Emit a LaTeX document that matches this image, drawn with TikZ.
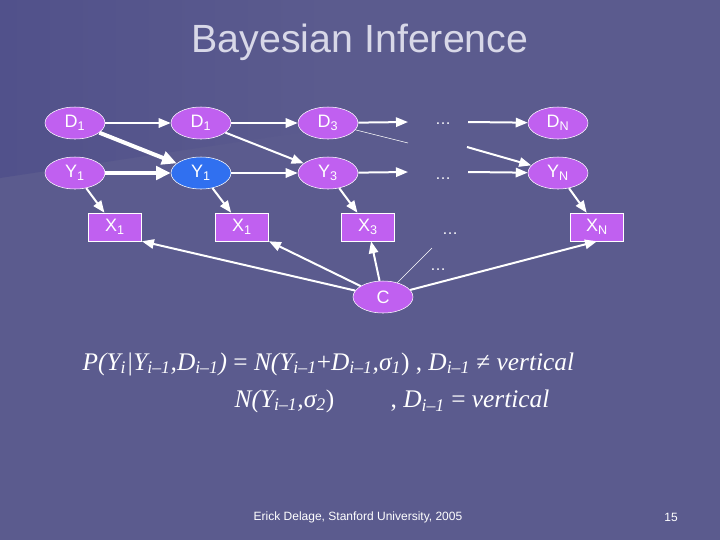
\documentclass[tikz,border=0pt]{standalone}
\usepackage{fontspec}
\setmainfont{Liberation Sans}
\newfontfamily\serifit{Liberation Serif}
\usetikzlibrary{arrows.meta,shapes.geometric}
\definecolor{bg}{HTML}{5B5B8E}
\definecolor{bgl}{HTML}{6E6E9E}
\definecolor{nodef}{HTML}{C060F0}
\definecolor{blu}{HTML}{3070F0}
\definecolor{ttl}{HTML}{D8D8E8}
\begin{document}
\begin{tikzpicture}[x=0.75pt,y=-0.75pt,
  ell/.style={ellipse,draw=white,fill=nodef,minimum width=45pt,minimum height=24pt,inner sep=0pt,text=white,font=\fontsize{13.5}{13.5}\selectfont},
  box/.style={rectangle,draw=white,fill=nodef,minimum width=40pt,minimum height=21pt,inner sep=0pt,text=white,font=\fontsize{13.5}{13.5}\selectfont},
  arr/.style={draw=white,line width=1.5pt,-{Triangle[length=9pt,width=7pt]}},
  tarr/.style={draw=white,line width=3pt,-{Triangle[length=11pt,width=10pt]}},
  dots/.style={text=white,font=\fontsize{12}{12}\selectfont}]
\useasboundingbox (0,0) rectangle (720,540);
\fill[bg] (0,0) rectangle (720,540);
\shade[left color=bgl!120!white,right color=bg] (0,0) -- (330,0) -- (330,128) -- (0,178) -- cycle;
\node[text=ttl,font=\fontsize{29.5}{29.5}\selectfont] (title) at (360,42) {Bayesian Inference};
\node[ell] (d1) at (75,123) {D\textsubscript{1}};
\node[ell] (d2) at (201,123) {D\textsubscript{1}};
\node[ell] (d3) at (328,123) {D\textsubscript{3}};
\node[ell] (dn) at (558,123) {D\textsubscript{N}};
\node[ell] (y1) at (75,173) {Y\textsubscript{1}};
\node[ell,fill=blu] (y2) at (201,173) {Y\textsubscript{1}};
\node[ell] (y3) at (328,173) {Y\textsubscript{3}};
\node[ell] (yn) at (558,173) {Y\textsubscript{N}};
\node[box] (x1) at (115,227) {X\textsubscript{1}};
\node[box] (x2) at (242,227) {X\textsubscript{1}};
\node[box] (x3) at (368,227) {X\textsubscript{3}};
\node[box] (xn) at (597,227) {X\textsubscript{N}};
\node[ell] (c) at (383,297) {C};
\node[dots] (dd) at (443,124) {\dots};
\node[dots] (dy) at (443,179) {\dots};
\node[dots] (dx) at (450,234) {\dots};
\node[dots] (dc) at (438,270) {\dots};
\coordinate (a1) at (408,122); \coordinate (a2) at (468,122);
\coordinate (b1) at (408,143); \coordinate (b2) at (467,147);
\coordinate (c1) at (408,172); \coordinate (c2) at (468,172);
\coordinate (e1) at (432,248);
\draw[arr] (d1) -- (d2);
\draw[arr] (d2) -- (d3);
\draw[arr] (d3) -- (a1);
\draw[arr] (a2) -- (dn);
\draw[tarr] (d1) -- (y2);
\draw[arr] (d2) -- (y3);
\draw[white,thin] (d3) -- (b1);
\draw[arr] (b2) -- (yn);
\draw[tarr] (y1) -- (y2);
\draw[arr] (y2) -- (y3);
\draw[arr] (y3) -- (c1);
\draw[arr] (c2) -- (yn);
\draw[arr] (y1) -- (x1);
\draw[arr] (y2) -- (x2);
\draw[arr] (y3) -- (x3);
\draw[arr] (yn) -- (xn);
\draw[arr] (c) -- (x1.south east);
\draw[arr] (c) -- (x2.south east);
\draw[arr] (c) -- (x3);
\draw[arr] (c) -- (xn.south);
\draw[white,thin] (c) -- (e1);
\node[anchor=west,text=white,font=\serifit\fontsize{19}{19}\selectfont\itshape] (f1) at (78,364)
 {P(Y\textsubscript{i}|Y\textsubscript{i–1},D\textsubscript{i–1}) \upshape= \itshape N(Y\textsubscript{i–1}\upshape+\itshape D\textsubscript{i–1},σ\textsubscript{1}\upshape) , \itshape D\textsubscript{i–1} \upshape≠ \itshape vertical};
\node[anchor=west,text=white,font=\serifit\fontsize{19}{19}\selectfont\itshape] (f2) at (230,401)
 {N(Y\textsubscript{i–1},σ\textsubscript{2}\upshape)};
\node[anchor=west,text=white,font=\serifit\fontsize{19}{19}\selectfont\itshape] (f3) at (386,401)
 {\upshape, \itshape D\textsubscript{i–1} \upshape= \itshape vertical};
\node[text=white,font=\fontsize{9}{9}\selectfont] (foot) at (358,517) {Erick Delage, Stanford University, 2005};
\node[text=white,font=\fontsize{9}{9}\selectfont] (pg) at (671,517) {15};
\end{tikzpicture}
\end{document}
